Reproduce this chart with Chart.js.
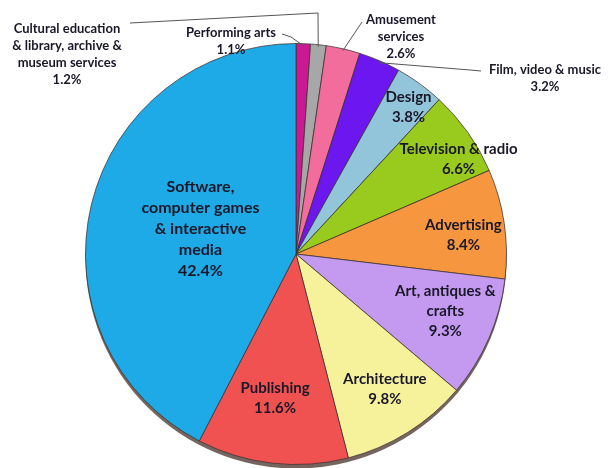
<!DOCTYPE html>
<html>
<head>
<meta charset="utf-8">
<script src="https://cdn.jsdelivr.net/npm/chart.js@4"></script>
<style>
  html, body { margin: 0; padding: 0; background: #fff; }
</style>
</head>
<body>
<canvas id="pieChart" width="608" height="468"></canvas>
<script>
// categories, clockwise from 12 o'clock (each entry = lines of its label)
const categories = [
    ['Performing arts'],
    ['Cultural education', '& library, archive &', 'museum services'],
    ['Amusement', 'services'],
    ['Film, video & music'],
    ['Design'],
    ['Television & radio'],
    ['Advertising'],
    ['Art, antiques &', 'crafts'],
    ['Architecture'],
    ['Publishing'],
    ['Software,', 'computer games', '& interactive', 'media']
];
const shares = [1.1, 1.2, 2.6, 3.2, 3.8, 6.6, 8.4, 9.3, 9.8, 11.6, 42.4];
const colors = ['#cc1893', '#a7a7a7', '#f26c9c', '#6c16f0', '#93c5da', '#99cb1e',
                '#f6973f', '#c49af0', '#f5f29b', '#f05251', '#1eaae6'];

// inside labels: fraction of radius, small angle nudge (deg), font size
const insideLabel = {
    4: { r: 0.88, da: 1.4, size: 15 },
    5: { r: 0.895, da: 4.9, size: 15 },
    6: { r: 0.80, da: 1.9, size: 15 },
    7: { r: 0.76, da: -2.5, size: 15 },
    8: { r: 0.77, da: -1.2, size: 15 },
    9: { r: 0.69, da: 1.8, size: 15 },
    10: { r: 0.47, da: 1.3, size: 16 }
};
// small slices get their label outside with a leader line
const outsideLabel = {
    0: { x: 231, y: 33, leader: [[282, 34], [291, 37]] },
    1: { x: 67, y: 29, leader: [[130, 23], [318, 13]] },
    2: { x: 401, y: 20, leader: [[362, 22]] },
    3: { x: 545, y: 70, leader: [[481, 71], [470, 70]] }
};

const shadowPlugin = {
    id: 'pieShadow',
    beforeDatasetsDraw(chart) {
        const arc = chart.getDatasetMeta(0).data[0];
        if (!arc) return;
        const ctx = chart.ctx;
        ctx.save();
        ctx.fillStyle = 'rgba(70,50,40,0.75)';
        ctx.beginPath();
        ctx.ellipse(arc.x, arc.y + 4, arc.outerRadius, arc.outerRadius, 0, 0, Math.PI * 2);
        ctx.fill();
        ctx.restore();
    }
};

const labelPlugin = {
    id: 'sliceLabels',
    afterDatasetsDraw(chart) {
        const ctx = chart.ctx;
        const meta = chart.getDatasetMeta(0);
        ctx.save();
        ctx.textAlign = 'center';
        ctx.textBaseline = 'middle';
        ctx.fillStyle = '#1a1828';
        meta.data.forEach(function (arc, i) {
            const mid = (arc.startAngle + arc.endAngle) / 2;
            const lines = categories[i].concat([shares[i].toFixed(1) + '%']);
            if (insideLabel[i]) {
                const cfg = insideLabel[i];
                const a = mid + cfg.da * Math.PI / 180;
                const lh = cfg.size + 5;
                const cx = arc.x + Math.cos(a) * arc.outerRadius * cfg.r;
                const cy = arc.y + Math.sin(a) * arc.outerRadius * cfg.r;
                ctx.font = 'bold ' + cfg.size + 'px Lato, "Open Sans", sans-serif';
                const top = cy - (lines.length - 1) * lh / 2;
                lines.forEach(function (t, k) { ctx.fillText(t, cx, top + k * lh); });
            } else if (outsideLabel[i]) {
                const cfg = outsideLabel[i];
                ctx.font = 'bold 13px Lato, "Open Sans", sans-serif';
                lines.forEach(function (t, k) { ctx.fillText(t, cfg.x, cfg.y + k * 17); });
                // leader line from label to the slice edge
                const ex = arc.x + Math.cos(mid) * (arc.outerRadius - 2);
                const ey = arc.y + Math.sin(mid) * (arc.outerRadius - 2);
                ctx.strokeStyle = '#555';
                ctx.lineWidth = 1;
                ctx.beginPath();
                ctx.moveTo(cfg.leader[0][0], cfg.leader[0][1]);
                for (let k = 1; k < cfg.leader.length; k++) ctx.lineTo(cfg.leader[k][0], cfg.leader[k][1]);
                ctx.lineTo(ex, ey);
                ctx.stroke();
            }
        });
        ctx.restore();
    }
};

new Chart(document.getElementById('pieChart').getContext('2d'), {
    type: 'pie',
    data: {
        labels: categories,
        datasets: [{
            data: shares,
            backgroundColor: colors,
            borderColor: 'rgba(60,50,50,0.75)',
            borderWidth: 1
        }]
    },
    options: {
        responsive: false,
        animation: false,
        layout: { padding: { left: 85, right: 101, top: 43, bottom: 3 } },
        plugins: {
            legend: { display: false },
            tooltip: { enabled: false }
        }
    },
    plugins: [shadowPlugin, labelPlugin]
});
</script>
</body>
</html>
